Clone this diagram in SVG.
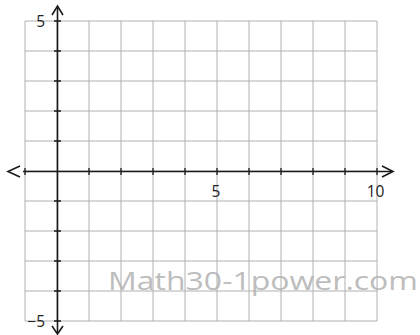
<svg xmlns="http://www.w3.org/2000/svg" width="420" height="335" viewBox="0 0 420 335">
<style>
.grid{stroke:#b0b0b0;stroke-width:1;fill:none}
.axis{stroke:#1a1a1a;stroke-width:1.6;fill:none}
.tick{stroke:#1a1a1a;stroke-width:1.3}
.lbl{font-family:"Open Sans","Liberation Sans",sans-serif;font-size:15.5px;fill:#222}
.wm{font-family:"Open Sans","Liberation Sans",sans-serif;font-size:25px;fill:#bdbdbd}
</style>
<rect width="420" height="335" fill="#fff"/>
<text id="watermark" class="wm" x="108" y="290" textLength="310" lengthAdjust="spacingAndGlyphs">Math30-1power.com</text>
<g id="grid" class="grid">
<path d="M25 21V321M57 21V321M89 21V321M121 21V321M153 21V321M185 21V321M217 21V321M249 21V321M281 21V321M313 21V321M345 21V321M377 21V321"/>
<path d="M25 21H377M25 51H377M25 81H377M25 111H377M25 141H377M25 171H377M25 201H377M25 231H377M25 261H377M25 291H377M25 321H377"/>
</g>
<g id="connectors">
<g id="x-axis">
<path class="axis" d="M23 171.5H392"/>
<path class="axis" d="M20 166L8 171.5L20 177"/>
<path class="axis" d="M382 166L393 171.5L382 177"/>
</g>
<g id="y-axis">
<path class="axis" d="M57.5 7V333"/>
<path class="axis" d="M52 15L57.5 6L63 15"/>
<path class="axis" d="M52 326L57.5 334L63 326"/>
</g>
<g id="ticks" class="tick">
<path d="M89 168V175M121 168V175M153 168V175M185 168V175M217 168V175M249 168V175M281 168V175M313 168V175M345 168V175M377 168V175M25 168V175"/>
<path d="M54 21H61M54 51H61M54 81H61M54 111H61M54 141H61M54 201H61M54 231H61M54 261H61M54 291H61M54 321H61"/>
</g>
</g>
<g id="labels">
<text class="lbl" x="45" y="27" text-anchor="end">5</text>
<text class="lbl" x="45" y="327" text-anchor="end">−5</text>
<text class="lbl" x="216" y="197" text-anchor="middle">5</text>
<text class="lbl" x="375.5" y="197" text-anchor="middle">10</text>
</g>
</svg>
